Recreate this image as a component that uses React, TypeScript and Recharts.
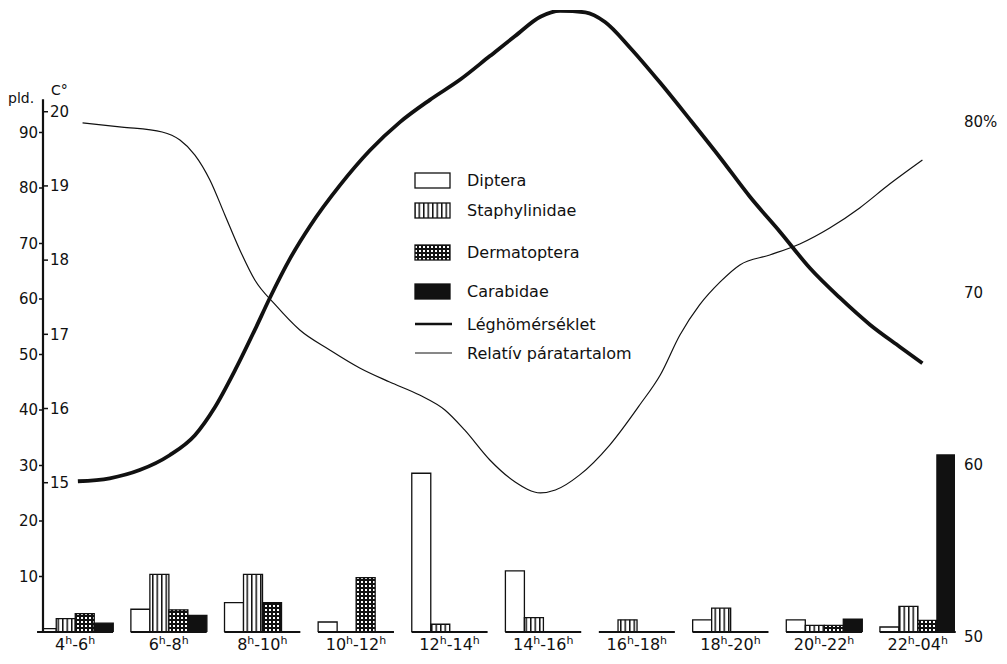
import { ComposedChart, Bar, Line, XAxis, YAxis, ReferenceLine, Legend } from "recharts"

// time periods (x = index)
const periods = ["4ʰ-6ʰ", "6ʰ-8ʰ", "8ʰ-10ʰ", "10ʰ-12ʰ", "12ʰ-14ʰ", "14ʰ-16ʰ", "16ʰ-18ʰ", "18ʰ-20ʰ", "20ʰ-22ʰ", "22ʰ-04ʰ"]

// specimens (pld.) per period
const diptera = [0.6, 4.1, 5.3, 1.8, 28.6, 11, 0, 2.2, 2.2, 0.9]
const staphylinidae = [2.4, 10.4, 10.4, 0, 1.4, 2.6, 2.2, 4.3, 1.2, 4.6]
const dermatoptera = [3.3, 4.0, 5.3, 9.8, 0, 0, 0, 0, 1.2, 2.1]
const carabidae = [1.6, 3.0, 0, 0, 0, 0, 0, 0, 2.3, 31.9]

// air temperature curve: [period position, °C]
const temperature: [number, number][] = [
  [0.03, 15.02], [0.37, 15.06], [0.69, 15.17], [1.01, 15.37], [1.28, 15.64],
  [1.49, 16.01], [1.71, 16.52], [1.92, 17.06], [2.08, 17.49], [2.3, 18.03],
  [2.51, 18.46], [2.83, 19.01], [3.15, 19.48], [3.47, 19.86], [3.79, 20.16],
  [4.11, 20.43], [4.43, 20.75], [4.7, 21.02], [4.97, 21.28], [5.18, 21.36],
  [5.45, 21.34], [5.66, 21.21], [5.93, 20.86], [6.25, 20.39], [6.57, 19.89],
  [6.89, 19.38], [7.21, 18.85], [7.53, 18.38], [7.85, 17.89], [8.17, 17.49],
  [8.49, 17.13], [8.81, 16.83], [9.05, 16.61]
]

// relative humidity curve: [period position, %]
const humidity: [number, number][] = [
  [0.08, 79.9], [0.5, 79.66], [0.93, 79.37], [1.12, 78.9], [1.28, 78.03],
  [1.44, 76.58], [1.6, 74.54], [1.76, 72.5], [1.92, 70.75], [2.14, 69.3],
  [2.4, 67.84], [2.72, 66.68], [3.04, 65.63], [3.36, 64.81], [3.68, 64.05],
  [3.95, 63.18], [4.16, 62.02], [4.43, 60.27], [4.7, 58.99], [4.97, 58.35],
  [5.13, 58.52], [5.39, 59.4], [5.71, 61.14], [6.03, 63.47], [6.25, 65.22],
  [6.46, 67.55], [6.67, 69.3], [6.89, 70.64], [7.1, 71.63], [7.42, 72.21],
  [7.74, 72.85], [8.06, 73.78], [8.38, 74.95], [8.7, 76.34], [9.05, 77.74]
]

const pldTicks = [10, 20, 30, 40, 50, 60, 70, 80, 90]
const tempTicks = [15, 16, 17, 18, 19, 20]
const humTicks = [50, 60, 70, 80]

const barData = periods.map((p, i) => ({
  x: i,
  period: p,
  diptera: diptera[i],
  staphylinidae: staphylinidae[i],
  dermatoptera: dermatoptera[i],
  carabidae: carabidae[i]
}))
const tempData = temperature.map(([x, c]) => ({ x, c }))
const humData = humidity.map(([x, h]) => ({ x, h }))

const X_MIN = -0.3425
const X_MAX = 9.398
const GROUP_HALF = 0.406
const AXIS_TOP = 96
const PLOT_LEFT = 35

const font = "'DejaVu Sans', sans-serif"
const ink = "#111"

function LegendBox() {
  const rows = [
    { y: 15, label: "Diptera", fill: "#fff" },
    { y: 45, label: "Staphylinidae", fill: "url(#lgStaph)" },
    { y: 87, label: "Dermatoptera", fill: "url(#lgDerm)" },
    { y: 126, label: "Carabidae", fill: ink }
  ]
  return (
    <svg width={280} height={205} style={{ display: "block" }}>
      <defs>
        <pattern id="lgStaph" patternUnits="userSpaceOnUse" width={4.5} height={10}>
          <rect width={4.5} height={10} fill="#fff" />
          <line x1={0.75} y1={0} x2={0.75} y2={10} stroke={ink} strokeWidth={1.5} />
        </pattern>
        <pattern id="lgDerm" patternUnits="userSpaceOnUse" width={4} height={4}>
          <rect width={4} height={4} fill={ink} />
          <rect x={1} y={1} width={2} height={2} fill="#fff" />
        </pattern>
      </defs>
      {rows.map(r => (
        <g key={r.label}>
          <rect x={1} y={r.y - 7} width={35} height={15} fill={r.fill} stroke={ink} strokeWidth={1.3} />
          <text x={53} y={r.y + 6} fontSize={16} fontFamily={font} fill={ink}>{r.label}</text>
        </g>
      ))}
      <line x1={1} y1={159} x2={38} y2={159} stroke={ink} strokeWidth={2.5} />
      <text x={53} y={165} fontSize={16} fontFamily={font} fill={ink}>Léghömérséklet</text>
      <line x1={1} y1={188} x2={38} y2={188} stroke={ink} strokeWidth={1} />
      <text x={53} y={194} fontSize={16} fontFamily={font} fill={ink}>Relatív páratartalom</text>
    </svg>
  )
}

function AxisTitles(props: any) {
  const { viewBox } = props
  const x = viewBox?.x ?? 0
  const y = viewBox?.y ?? 0
  return (
    <g>
      <text x={x - 35} y={y + 4} fontSize={14} fontFamily={font} fill={ink}>pld.</text>
      <text x={x + 8} y={y - 4} fontSize={14} fontFamily={font} fill={ink}>C°</text>
    </g>
  )
}

// temperature ticks sit on the right side of the shared left axis line
function TempTick(props: any) {
  const { y, payload } = props
  return (
    <g>
      <line x1={PLOT_LEFT} x2={PLOT_LEFT + 5} y1={y} y2={y} stroke={ink} strokeWidth={1.5} />
      <text x={PLOT_LEFT + 7} y={y} dy="0.35em" fontSize={15} fontFamily={font} fill={ink}>
        {payload.value}
      </text>
    </g>
  )
}

// period label with raised "h"
function PeriodTick(props: any) {
  const { x, y, payload } = props
  const label = periods[payload.value] ?? ""
  const parts = label.split(/(ʰ)/).filter(s => s !== "")
  let raised = false
  return (
    <text x={x} y={y + 14} textAnchor="middle" fontSize={16} fontFamily={font} fill={ink}>
      {parts.map((s, k) => {
        if (s === "ʰ") {
          raised = true
          return <tspan key={k} fontSize={11} dy={-6}>h</tspan>
        }
        const dy = raised ? 6 : 0
        raised = false
        return <tspan key={k} dy={dy}>{s}</tspan>
      })}
    </text>
  )
}

export default function App() {
  const tickStyle = { fontSize: 15, fontFamily: font, fill: ink }
  return (
    <ComposedChart
      width={992}
      height={650}
      data={barData}
      margin={{ top: 2, right: 0, bottom: 0, left: 0 }}
      barGap={0}
    >
      <defs>
        <pattern id="staph" patternUnits="userSpaceOnUse" width={4.5} height={10}>
          <rect width={4.5} height={10} fill="#fff" />
          <line x1={0.75} y1={0} x2={0.75} y2={10} stroke={ink} strokeWidth={1.5} />
        </pattern>
        <pattern id="derm" patternUnits="userSpaceOnUse" width={4} height={4}>
          <rect width={4} height={4} fill={ink} />
          <rect x={1} y={1} width={2} height={2} fill="#fff" />
        </pattern>
      </defs>
      <XAxis
        xAxisId="bars"
        dataKey="x"
        type="number"
        domain={[X_MIN, X_MAX]}
        allowDataOverflow
        ticks={periods.map((_, i) => i)}
        axisLine={false}
        tickLine={false}
        tickSize={0}
        tickMargin={4}
        height={26}
        tick={<PeriodTick />}
        interval={0}
      />
      <XAxis xAxisId="lines" dataKey="x" type="number" domain={[X_MIN, X_MAX]} allowDataOverflow hide />
      <YAxis
        yAxisId="t"
        orientation="left"
        mirror
        width={1}
        domain={[12.988, 21.371]}
        allowDataOverflow
        ticks={tempTicks}
        axisLine={false}
        tickLine={false}
        tick={<TempTick />}
      />
      <YAxis
        yAxisId="p"
        orientation="left"
        width={35}
        domain={[0, 112.07]}
        allowDataOverflow
        ticks={pldTicks}
        axisLine={false}
        tickSize={4}
        tickMargin={1}
        tickLine={{ stroke: ink, strokeWidth: 1.5 }}
        tick={tickStyle}
      />
      <YAxis
        yAxisId="h"
        orientation="right"
        width={45}
        domain={[50.25, 86.476]}
        allowDataOverflow
        ticks={humTicks}
        tickFormatter={(v: number) => (v === 80 ? "80%" : String(v))}
        axisLine={false}
        tickLine={false}
        tickSize={0}
        tickMargin={9}
        tick={tickStyle}
      />
      <Legend
        verticalAlign="middle"
        align="center"
        content={() => <LegendBox />}
        wrapperStyle={{ left: 406, top: 157, width: 280, height: 205 }}
      />
      {/* left axis line */}
      <ReferenceLine
        xAxisId="bars"
        yAxisId="p"
        ifOverflow="visible"
        segment={[{ x: X_MIN, y: 0 }, { x: X_MIN, y: AXIS_TOP }]}
        stroke={ink}
        strokeWidth={2.2}
        label={<AxisTitles />}
      />
      {/* ground line under each group */}
      {periods.map((p, i) => (
        <ReferenceLine
          key={p}
          xAxisId="bars"
          yAxisId="p"
          ifOverflow="visible"
          segment={[{ x: i - GROUP_HALF, y: 0 }, { x: i + GROUP_HALF, y: 0 }]}
          stroke={ink}
          strokeWidth={1.8}
        />
      ))}
      <Bar xAxisId="bars" yAxisId="p" dataKey="diptera" name="Diptera" barSize={19} fill="#fff" stroke={ink} strokeWidth={1.3} isAnimationActive={false} />
      <Bar xAxisId="bars" yAxisId="p" dataKey="staphylinidae" name="Staphylinidae" barSize={19} fill="url(#staph)" stroke={ink} strokeWidth={1.3} isAnimationActive={false} />
      <Bar xAxisId="bars" yAxisId="p" dataKey="dermatoptera" name="Dermatoptera" barSize={19} fill="url(#derm)" stroke={ink} strokeWidth={1.3} isAnimationActive={false} />
      <Bar xAxisId="bars" yAxisId="p" dataKey="carabidae" name="Carabidae" barSize={19} fill={ink} stroke={ink} strokeWidth={1.3} isAnimationActive={false} />
      <Line
        xAxisId="lines"
        yAxisId="t"
        data={tempData}
        dataKey="c"
        name="Léghömérséklet"
        type="monotone"
        stroke={ink}
        strokeWidth={3.8}
        dot={false}
        activeDot={false}
        isAnimationActive={false}
      />
      <Line
        xAxisId="lines"
        yAxisId="h"
        data={humData}
        dataKey="h"
        name="Relatív páratartalom"
        type="monotone"
        stroke={ink}
        strokeWidth={1.2}
        dot={false}
        activeDot={false}
        isAnimationActive={false}
      />
    </ComposedChart>
  )
}
